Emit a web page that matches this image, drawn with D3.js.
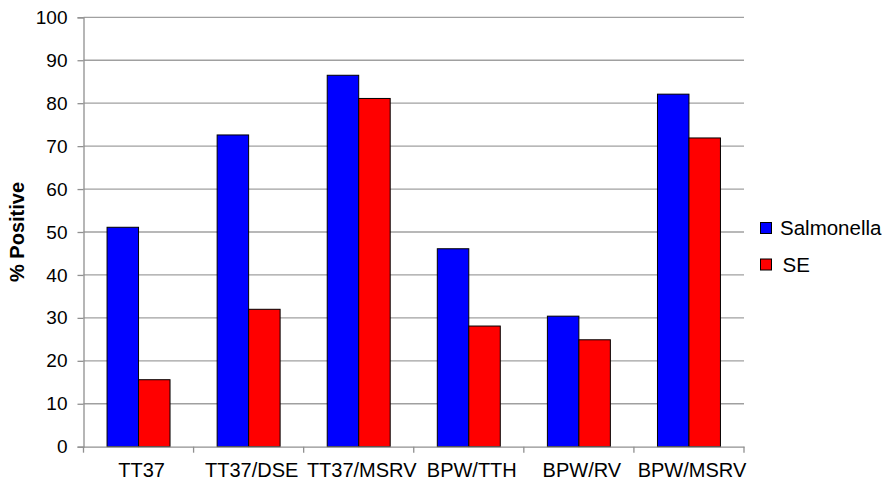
<!DOCTYPE html>
<html>
<head>
<meta charset="utf-8">
<script src="https://cdn.jsdelivr.net/npm/d3@7"></script>
<style>
  html, body { margin: 0; padding: 0; background: #fff; }
  svg { display: block; font-family: "Liberation Sans", Arial, sans-serif; }
</style>
</head>
<body>
<svg id="chart" width="887" height="482"></svg>
<script>
// Detection method categories
const categories = ["TT37", "TT37/DSE", "TT37/MSRV", "BPW/TTH", "BPW/RV", "BPW/MSRV"];
// % positive per method
const salmonella = [51.1, 72.6, 86.5, 46.1, 30.4, 82.1];
const se = [15.6, 32.0, 81.1, 28.1, 24.9, 71.9];
const seriesNames = ["Salmonella", "SE"];
const seriesColors = ["#0000ff", "#ff0000"];
const yTicks = [0, 10, 20, 30, 40, 50, 60, 70, 80, 90, 100];

const svg = d3.select("#chart");
const plotLeft = 83.5, plotRight = 744, plotTop = 17.3, plotBottom = 446.7;
const fontSize = 20;

const x = d3.scaleBand().domain(categories).range([plotLeft, plotRight]).padding(0);
const y = d3.scaleLinear().domain([0, 100]).range([plotBottom, plotTop]);

const barW = x.bandwidth() * 0.286;
const groupOffset = (x.bandwidth() - 2 * barW) / 2;

// Horizontal gridlines
svg.append("g")
  .selectAll("line")
  .data(yTicks.filter(d => d > 0))
  .join("line")
  .attr("x1", plotLeft).attr("x2", plotRight)
  .attr("y1", d => y(d)).attr("y2", d => y(d))
  .attr("stroke", "#a0a0a0").attr("stroke-width", 1.3);

// Bars
const series = [salmonella, se];
series.forEach((vals, si) => {
  svg.append("g")
    .selectAll("rect")
    .data(categories.map((c, i) => ({ c, v: vals[i] })))
    .join("rect")
    .attr("x", d => x(d.c) + groupOffset + si * barW)
    .attr("y", d => y(d.v))
    .attr("width", barW)
    .attr("height", d => y(0) - y(d.v))
    .attr("fill", seriesColors[si])
    .attr("stroke", "#000")
    .attr("stroke-width", 1);
});

// Y axis
const yAxis = svg.append("g")
  .attr("transform", `translate(${plotLeft},0)`)
  .call(d3.axisLeft(y).tickValues(yTicks).tickSize(6).tickPadding(10).tickFormat(d3.format("d")));
yAxis.select(".domain").attr("stroke", "#909090").attr("stroke-width", 1.3);
yAxis.selectAll(".tick line").attr("stroke", "#909090").attr("stroke-width", 1.3);
yAxis.selectAll("text").attr("font-size", 19).attr("fill", "#000")
  .attr("font-family", "'Liberation Sans', Arial, sans-serif");

// X axis
const xAxis = svg.append("g")
  .attr("transform", `translate(0,${plotBottom})`)
  .call(d3.axisBottom(x).tickSize(0).tickPadding(0));
xAxis.select(".domain").attr("stroke", "#909090").attr("stroke-width", 1.3);
xAxis.selectAll("text")
  .attr("y", 30.5).attr("dy", 0).attr("dx", 3)
  .attr("font-size", fontSize).attr("fill", "#000")
  .attr("font-family", "'Liberation Sans', Arial, sans-serif");

// Category boundary ticks
svg.append("g")
  .selectAll("line")
  .data(d3.range(categories.length + 1))
  .join("line")
  .attr("x1", i => plotLeft + i * x.step()).attr("x2", i => plotLeft + i * x.step())
  .attr("y1", plotBottom).attr("y2", plotBottom + 6)
  .attr("stroke", "#909090").attr("stroke-width", 1.3);

// Y axis title
svg.append("text")
  .attr("transform", `translate(24,${(plotTop + plotBottom) / 2}) rotate(-90)`)
  .attr("text-anchor", "middle")
  .attr("font-size", fontSize)
  .attr("font-weight", "bold")
  .text("% Positive");

// Legend
const legend = svg.append("g");
seriesNames.forEach((name, i) => {
  const ly = 228 + i * 36.5;
  legend.append("rect")
    .attr("x", 760.5).attr("y", ly - 5.5)
    .attr("width", 11).attr("height", 11)
    .attr("fill", seriesColors[i])
    .attr("stroke", "#000").attr("stroke-width", 1);
  legend.append("text")
    .attr("x", i === 0 ? 780 : 782.5).attr("y", ly)
    .attr("dy", "0.35em")
    .attr("font-size", 20.5)
    .text(name);
});
</script>
</body>
</html>
